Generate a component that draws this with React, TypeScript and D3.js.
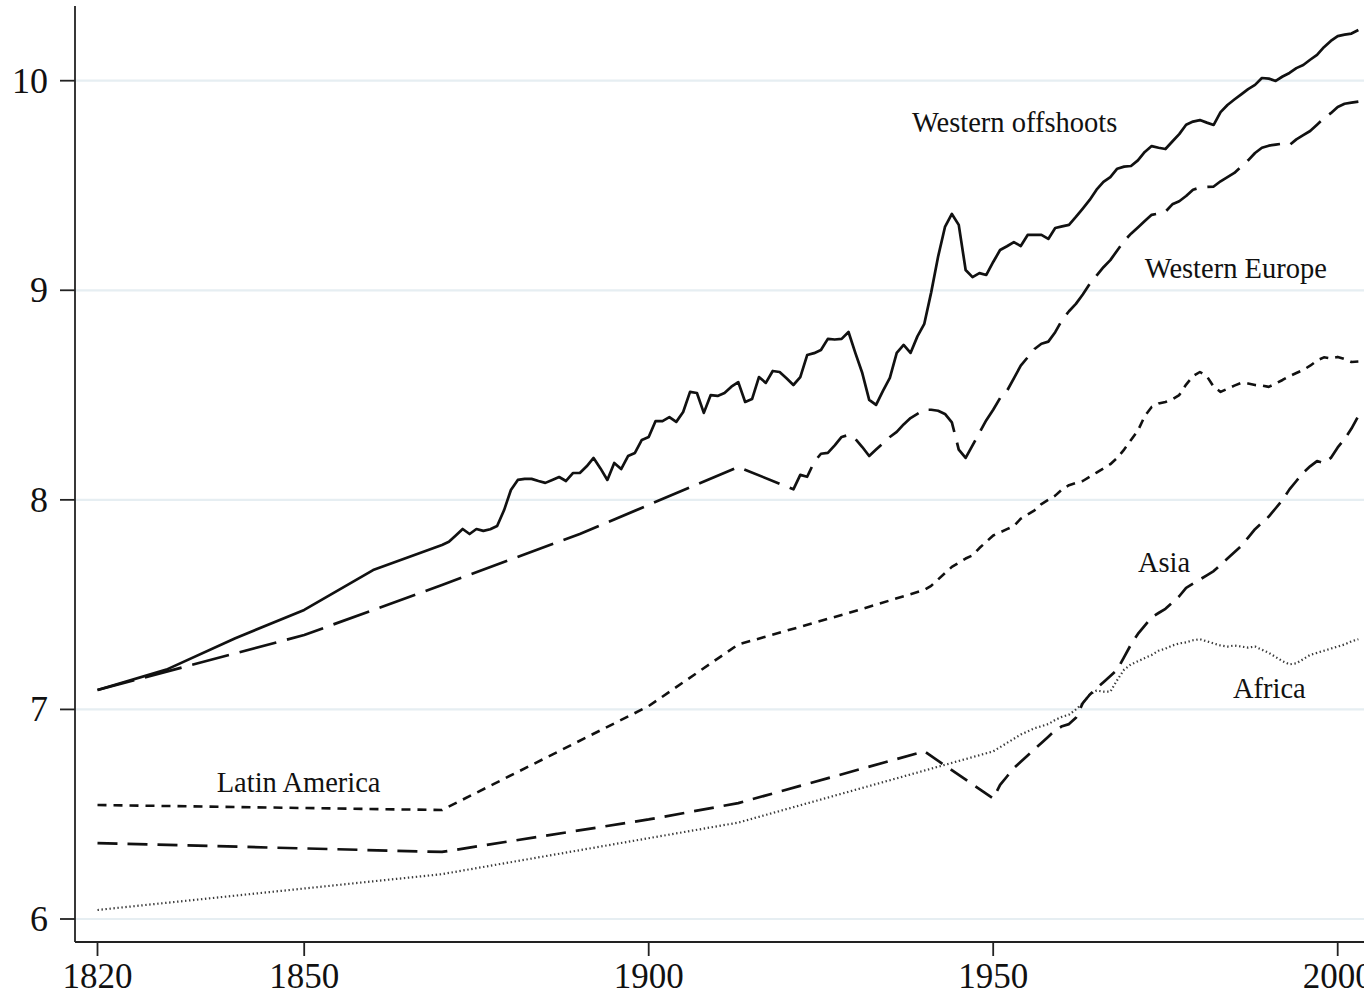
import React from "react";
import * as d3 from "d3";

const xTicks = [1820, 1850, 1900, 1950, 2000];
const yTicks = [6, 7, 8, 9, 10];

const westernOffshoots: [number, number][] = [
  [1820, 7.093], [1830, 7.19], [1840, 7.34], [1850, 7.475], [1860, 7.665], [1870, 7.785],
  [1871, 7.8], [1872, 7.83], [1873, 7.861], [1874, 7.837], [1875, 7.861], [1876, 7.852],
  [1877, 7.86], [1878, 7.875], [1879, 7.95], [1880, 8.047], [1881, 8.095], [1882, 8.1],
  [1883, 8.1], [1884, 8.09], [1885, 8.081], [1886, 8.095], [1887, 8.109], [1888, 8.09],
  [1889, 8.128], [1890, 8.128], [1891, 8.16], [1892, 8.2], [1893, 8.15], [1894, 8.095],
  [1895, 8.176], [1896, 8.147], [1897, 8.209], [1898, 8.224], [1899, 8.286], [1900, 8.3],
  [1901, 8.376], [1902, 8.376], [1903, 8.395], [1904, 8.372], [1905, 8.419], [1906, 8.515],
  [1907, 8.51], [1908, 8.415], [1909, 8.5], [1910, 8.496], [1911, 8.51], [1912, 8.54],
  [1913, 8.562], [1914, 8.467], [1915, 8.481], [1916, 8.586], [1917, 8.558], [1918, 8.615],
  [1919, 8.61], [1920, 8.58], [1921, 8.548], [1922, 8.586], [1923, 8.691], [1924, 8.7],
  [1925, 8.715], [1926, 8.768], [1927, 8.765], [1928, 8.768], [1929, 8.801], [1930, 8.7],
  [1931, 8.605], [1932, 8.477], [1933, 8.453], [1934, 8.52], [1935, 8.582], [1936, 8.701],
  [1937, 8.739], [1938, 8.701], [1939, 8.78], [1940, 8.84], [1941, 8.99], [1942, 9.16],
  [1943, 9.302], [1944, 9.364], [1945, 9.312], [1946, 9.097], [1947, 9.063], [1948, 9.082],
  [1949, 9.073], [1950, 9.135], [1951, 9.192], [1952, 9.21], [1953, 9.23], [1954, 9.211],
  [1955, 9.264], [1956, 9.264], [1957, 9.264], [1958, 9.245], [1959, 9.297], [1960, 9.305],
  [1961, 9.312], [1962, 9.35], [1963, 9.39], [1964, 9.431], [1965, 9.48], [1966, 9.517],
  [1967, 9.54], [1968, 9.58], [1969, 9.59], [1970, 9.593], [1971, 9.62], [1972, 9.66],
  [1973, 9.688], [1974, 9.68], [1975, 9.674], [1976, 9.71], [1977, 9.745], [1978, 9.79],
  [1979, 9.805], [1980, 9.812], [1981, 9.8], [1982, 9.789], [1983, 9.85], [1984, 9.884],
  [1985, 9.91], [1986, 9.935], [1987, 9.96], [1988, 9.98], [1989, 10.013], [1990, 10.01],
  [1991, 9.999], [1992, 10.02], [1993, 10.037], [1994, 10.06], [1995, 10.075], [1996, 10.1],
  [1997, 10.123], [1998, 10.16], [1999, 10.19], [2000, 10.213], [2001, 10.22], [2002, 10.225],
  [2003, 10.242],
];

const westernEurope: [number, number][] = [
  [1820, 7.093], [1850, 7.355], [1870, 7.594], [1890, 7.837], [1913, 8.157], [1921, 8.05],
  [1922, 8.119], [1923, 8.11], [1924, 8.18], [1925, 8.22], [1926, 8.224], [1927, 8.26],
  [1928, 8.3], [1929, 8.31], [1930, 8.29], [1931, 8.252], [1932, 8.209], [1933, 8.24],
  [1934, 8.27], [1935, 8.3], [1936, 8.324], [1937, 8.36], [1938, 8.39], [1939, 8.41],
  [1940, 8.43], [1941, 8.43], [1942, 8.425], [1943, 8.41], [1944, 8.37], [1945, 8.24],
  [1946, 8.2], [1947, 8.26], [1948, 8.32], [1949, 8.38], [1950, 8.43], [1951, 8.486],
  [1952, 8.52], [1953, 8.58], [1954, 8.64], [1955, 8.68], [1956, 8.72], [1957, 8.745],
  [1958, 8.755], [1959, 8.8], [1960, 8.858], [1961, 8.9], [1962, 8.935], [1963, 8.98],
  [1964, 9.03], [1965, 9.07], [1966, 9.11], [1967, 9.144], [1968, 9.19], [1969, 9.235],
  [1970, 9.27], [1971, 9.3], [1972, 9.33], [1973, 9.36], [1974, 9.366], [1975, 9.375],
  [1976, 9.41], [1977, 9.425], [1978, 9.45], [1979, 9.48], [1980, 9.49], [1981, 9.493],
  [1982, 9.495], [1983, 9.52], [1984, 9.54], [1985, 9.56], [1986, 9.59], [1987, 9.62],
  [1988, 9.655], [1989, 9.68], [1990, 9.69], [1991, 9.695], [1992, 9.7], [1993, 9.693],
  [1994, 9.72], [1995, 9.74], [1996, 9.76], [1997, 9.79], [1998, 9.82], [1999, 9.845],
  [2000, 9.875], [2001, 9.89], [2002, 9.895], [2003, 9.9],
];

const latinAmerica: [number, number][] = [
  [1820, 6.544], [1870, 6.52], [1900, 7.016], [1913, 7.31], [1929, 7.46], [1940, 7.57],
  [1941, 7.59], [1942, 7.62], [1943, 7.65], [1944, 7.68], [1945, 7.7], [1946, 7.72],
  [1947, 7.735], [1948, 7.77], [1949, 7.8], [1950, 7.83], [1951, 7.845], [1952, 7.86],
  [1953, 7.875], [1954, 7.91], [1955, 7.93], [1956, 7.95], [1957, 7.98], [1958, 8.0],
  [1959, 8.02], [1960, 8.05], [1961, 8.07], [1962, 8.08], [1963, 8.09], [1964, 8.11],
  [1965, 8.13], [1966, 8.15], [1967, 8.17], [1968, 8.2], [1969, 8.24], [1970, 8.286],
  [1971, 8.33], [1972, 8.4], [1973, 8.443], [1974, 8.46], [1975, 8.467], [1976, 8.48],
  [1977, 8.5], [1978, 8.55], [1979, 8.59], [1980, 8.61], [1981, 8.59], [1982, 8.54],
  [1983, 8.515], [1984, 8.53], [1985, 8.545], [1986, 8.558], [1987, 8.555], [1988, 8.548],
  [1989, 8.545], [1990, 8.539], [1991, 8.555], [1992, 8.572], [1993, 8.59], [1994, 8.605],
  [1995, 8.62], [1996, 8.64], [1997, 8.665], [1998, 8.68], [1999, 8.675], [2000, 8.682],
  [2001, 8.672], [2002, 8.658], [2003, 8.66],
];

const asia: [number, number][] = [
  [1820, 6.362], [1870, 6.32], [1900, 6.475], [1913, 6.553], [1940, 6.8], [1950, 6.575],
  [1951, 6.64], [1952, 6.68], [1953, 6.72], [1954, 6.75], [1955, 6.78], [1956, 6.81],
  [1957, 6.84], [1958, 6.87], [1959, 6.9], [1960, 6.92], [1961, 6.93], [1962, 6.96],
  [1963, 7.03], [1964, 7.07], [1965, 7.1], [1966, 7.13], [1967, 7.16], [1968, 7.19],
  [1969, 7.25], [1970, 7.31], [1971, 7.36], [1972, 7.4], [1973, 7.44], [1974, 7.46],
  [1975, 7.48], [1976, 7.51], [1977, 7.54], [1978, 7.58], [1979, 7.6], [1980, 7.62],
  [1981, 7.64], [1982, 7.66], [1983, 7.69], [1984, 7.72], [1985, 7.75], [1986, 7.78],
  [1987, 7.82], [1988, 7.86], [1989, 7.89], [1990, 7.92], [1991, 7.96], [1992, 8.0],
  [1993, 8.05], [1994, 8.09], [1995, 8.13], [1996, 8.16], [1997, 8.185], [1998, 8.175],
  [1999, 8.2], [2000, 8.25], [2001, 8.29], [2002, 8.34], [2003, 8.4],
];

const africa: [number, number][] = [
  [1820, 6.043], [1870, 6.214], [1913, 6.46], [1950, 6.8], [1951, 6.82], [1952, 6.84],
  [1953, 6.86], [1954, 6.88], [1955, 6.895], [1956, 6.91], [1957, 6.92], [1958, 6.93],
  [1959, 6.95], [1960, 6.965], [1961, 6.975], [1962, 7.0], [1963, 7.03], [1964, 7.07],
  [1965, 7.09], [1966, 7.085], [1967, 7.085], [1968, 7.14], [1969, 7.19], [1970, 7.215],
  [1971, 7.23], [1972, 7.245], [1973, 7.26], [1974, 7.28], [1975, 7.29], [1976, 7.305],
  [1977, 7.315], [1978, 7.32], [1979, 7.33], [1980, 7.335], [1981, 7.325], [1982, 7.315],
  [1983, 7.305], [1984, 7.3], [1985, 7.305], [1986, 7.3], [1987, 7.295], [1988, 7.3],
  [1989, 7.285], [1990, 7.27], [1991, 7.25], [1992, 7.23], [1993, 7.215], [1994, 7.22],
  [1995, 7.24], [1996, 7.26], [1997, 7.27], [1998, 7.28], [1999, 7.29], [2000, 7.3],
  [2001, 7.31], [2002, 7.325], [2003, 7.335],
];

const seriesLabels: { text: string; year: number; value: number }[] = [
  { text: "Western offshoots", year: 1938.2, value: 9.755 },
  { text: "Western Europe", year: 1972.0, value: 9.058 },
  { text: "Asia", year: 1971.0, value: 7.656 },
  { text: "Africa", year: 1984.8, value: 7.055 },
  { text: "Latin America", year: 1837.3, value: 6.606 },
];

const W = 1364;
const H = 993;

export default function App() {
  const x = d3.scaleLinear().domain([1820, 2000]).range([97.5, 1337.7]);
  const y = d3.scaleLinear().domain([6, 10]).range([919, 80.7]);
  const axisX = 75;
  const axisY = 942;
  const axisTop = 6;

  const line = d3
    .line<[number, number]>()
    .x((d) => x(d[0]))
    .y((d) => y(d[1]));

  const font = "'Liberation Serif', 'Times New Roman', serif";

  const series = [
    { data: africa, stroke: "#3a3a3a", width: 2.2, dash: "1.4,2.6" },
    { data: asia, stroke: "#111", width: 2.7, dash: "20,10" },
    { data: latinAmerica, stroke: "#111", width: 2.6, dash: "9,7" },
    { data: westernEurope, stroke: "#111", width: 2.7, dash: "38,11" },
    { data: westernOffshoots, stroke: "#111", width: 2.7, dash: undefined as string | undefined },
  ];

  return (
    <svg
      width={W}
      height={H}
      style={{ position: "absolute", left: 0, top: 0, background: "#fff" }}
    >
      <rect x={0} y={0} width={W} height={H} fill="#fff" />
      {yTicks.map((t) => (
        <line
          key={"g" + t}
          x1={axisX}
          x2={W}
          y1={y(t)}
          y2={y(t)}
          stroke="#e6eef2"
          strokeWidth={2.2}
        />
      ))}
      {series.map((s, i) => (
        <path
          key={i}
          d={line(s.data) || ""}
          fill="none"
          stroke={s.stroke}
          strokeWidth={s.width}
          strokeDasharray={s.dash}
          strokeLinejoin="round"
        />
      ))}
      <line x1={axisX} x2={axisX} y1={axisTop} y2={axisY} stroke="#222" strokeWidth={1.8} />
      <line x1={axisX} x2={W} y1={axisY} y2={axisY} stroke="#222" strokeWidth={1.8} />
      {yTicks.map((t) => (
        <g key={"y" + t}>
          <line x1={axisX - 15} x2={axisX} y1={y(t)} y2={y(t)} stroke="#222" strokeWidth={1.8} />
          <text
            x={48}
            y={y(t)}
            textAnchor="end"
            dominantBaseline="central"
            fontFamily={font}
            fontSize={36}
            fill="#111"
          >
            {t}
          </text>
        </g>
      ))}
      {xTicks.map((t) => (
        <g key={"x" + t}>
          <line x1={x(t)} x2={x(t)} y1={axisY} y2={axisY + 14} stroke="#222" strokeWidth={1.8} />
          <text
            x={x(t)}
            y={988}
            textAnchor="middle"
            fontFamily={font}
            fontSize={35}
            fill="#111"
          >
            {t}
          </text>
        </g>
      ))}
      {seriesLabels.map((l) => (
        <text
          key={l.text}
          x={x(l.year)}
          y={y(l.value)}
          fontFamily={font}
          fontSize={28.5}
          fill="#111"
        >
          {l.text}
        </text>
      ))}
    </svg>
  );
}
